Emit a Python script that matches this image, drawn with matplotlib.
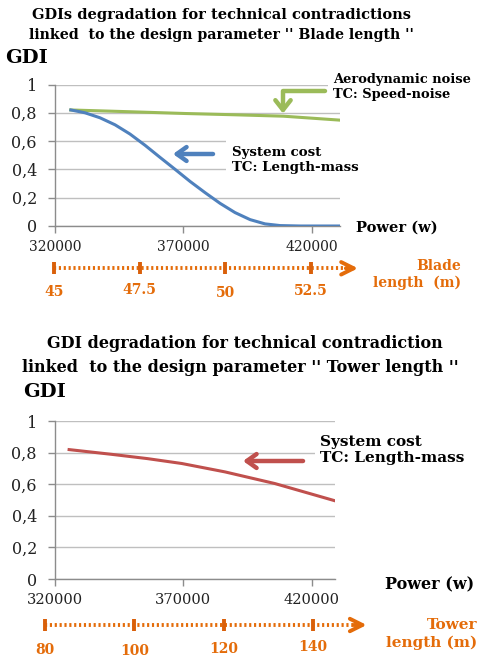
import matplotlib
matplotlib.use("Agg")
import matplotlib.pyplot as plt

# ---------------- data ----------------
blade_power = [326200, 331700, 337500, 343400, 349200, 355100, 360900, 366800, 372600,
               378500, 384300, 390100, 396000, 401800, 407700, 415500, 431100]
blade_cost_gdi = [0.82, 0.80, 0.765, 0.715, 0.65, 0.57, 0.485, 0.40, 0.315,
                  0.235, 0.16, 0.095, 0.045, 0.015, 0.003, 0.0, 0.0]
blade_noise_power = [326100, 350000, 370700, 390000, 409000, 431100]
blade_noise_gdi = [0.82, 0.807, 0.795, 0.786, 0.776, 0.748]

tower_power = [325500, 342100, 356000, 369400, 386200, 405700, 429100]
tower_cost_gdi = [0.819, 0.789, 0.762, 0.731, 0.678, 0.604, 0.495]

power_ticks = [320000, 370000, 420000]
gdi_ticks = [0, 0.2, 0.4, 0.6, 0.8, 1]
gdi_labels = ["0", "0,2", "0,4", "0,6", "0,8", "1"]

blade_lengths = [45, 47.5, 50, 52.5]
blade_labels = ["45", "47.5", "50", "52.5"]
tower_lengths = [80, 100, 120, 140]
tower_labels = ["80", "100", "120", "140"]

# ---------------- style ----------------
W, H = 479, 657
BLUE = "#4F81BD"
GREEN = "#9BBB59"
RED = "#C0504D"
ORANGE = "#E46C0A"
GRID = "#BFBFBF"
AXC = "#8C8C8C"
SERIF = ["DejaVu Serif"]

plt.rcParams["font.family"] = SERIF

fig = plt.figure(figsize=(W / 100, H / 100), dpi=100)
fig.patch.set_facecolor("white")


def fx(px):
    return px / W


def fy(py):
    return 1 - py / H


def make_axes(left, right, top, bottom, xmax, xsize):
    ax = fig.add_axes([fx(left), fy(bottom), fx(right - left), (bottom - top) / H])
    ax.set_xlim(320000, xmax)
    ax.set_ylim(0, 1)
    ax.set_xticks(power_ticks)
    ax.set_xticklabels([str(v) for v in power_ticks], fontsize=xsize)
    ax.set_yticks(gdi_ticks)
    ax.set_yticklabels(gdi_labels, fontsize=11.5)
    ax.yaxis.grid(True, color=GRID, lw=1)
    ax.set_axisbelow(True)
    for s in ["top", "right"]:
        ax.spines[s].set_visible(False)
    for s in ["left", "bottom"]:
        ax.spines[s].set_color(AXC)
        ax.spines[s].set_linewidth(1)
    ax.tick_params(axis="both", colors=AXC, length=5, width=1, labelcolor="#222222")
    ax.tick_params(axis="y", pad=8)
    ax.tick_params(axis="x", pad=5)
    ax.patch.set_alpha(0)
    return ax


def length_scale(left_px, right_px, y_px, vmin, vmax_scale, values, labels, offsets):
    h = 16
    ax = fig.add_axes([fx(left_px), fy(y_px + h / 2), fx(right_px - left_px), h / H])
    ax.set_xlim(vmin, vmax_scale)
    ax.set_ylim(-1, 1)
    ax.axis("off")
    span = vmax_scale - vmin
    ax.plot([vmin, vmax_scale - span * 0.035], [0, 0], color=ORANGE, lw=2.8,
            linestyle=(0, (0.55, 0.7)), solid_capstyle="butt", clip_on=False)
    ax.annotate("", xy=(vmax_scale, 0), xytext=(vmax_scale - span * 0.04, 0),
                arrowprops=dict(arrowstyle="->,head_length=0.9,head_width=0.45",
                                lw=2.8, color=ORANGE, shrinkA=0, shrinkB=0),
                annotation_clip=False)
    for v, lab, off in zip(values, labels, offsets):
        ax.plot([v, v], [-0.75, 0.75], color="#D9600A", lw=2.8, clip_on=False,
                solid_capstyle="butt")
        ax.annotate(lab, xy=(v, 0), xytext=(0, -off), textcoords="offset pixels",
                    ha="center", va="center", fontsize=10, fontweight="bold",
                    color=ORANGE, annotation_clip=False)
    return ax


# ================= top chart =================
ax1 = make_axes(55, 340, 84.5, 226, 431000, 10)
ax1.plot(blade_noise_power, blade_noise_gdi, color=GREEN, lw=2.2, zorder=3)
ax1.plot(blade_power, blade_cost_gdi, color=BLUE, lw=2.2, zorder=3)

fig.text(fx(222), fy(15), "GDIs degradation for technical contradictions",
         ha="center", va="center", fontsize=10.5, fontweight="bold")
fig.text(fx(221), fy(35), "linked  to the design parameter '' Blade length ''",
         ha="center", va="center", fontsize=10.2, fontweight="bold")
fig.text(fx(5), fy(58), "GDI", ha="left", va="center", fontsize=14, fontweight="bold")

# annotations
ax1.text(431000 - 111000 * (340 - 333) / 285, (226 - 87) / 141.5,
         "Aerodynamic noise\nTC: Speed-noise", ha="left", va="center",
         fontsize=9.4, fontweight="bold", linespacing=1.2, clip_on=False, zorder=4,
         bbox=dict(boxstyle="square,pad=0.35", fc="white", ec="none"))
ax1.annotate("", xy=(408800, 0.795), xytext=(425100, 0.955),
             arrowprops=dict(arrowstyle="->,head_length=0.7,head_width=0.55", lw=3.2,
                             color=GREEN, shrinkA=0, shrinkB=0,
                             connectionstyle="angle,angleA=180,angleB=90,rad=0"),
             annotation_clip=False, zorder=5)

ax1.text(320000 + (232 - 55) * 389.5, (226 - 160) / 141.5,
         "System cost\nTC: Length-mass", ha="left", va="center",
         fontsize=9.6, fontweight="bold", linespacing=1.25, zorder=4,
         bbox=dict(boxstyle="square,pad=0.45", fc="white", ec="none"))
ax1.annotate("", xy=(320000 + (173 - 55) * 389.5, (226 - 154) / 141.5),
             xytext=(320000 + (213 - 55) * 389.5, (226 - 154) / 141.5),
             arrowprops=dict(arrowstyle="->,head_length=0.7,head_width=0.5", lw=3.2,
                             color=BLUE, shrinkA=0, shrinkB=0), zorder=5)

fig.text(fx(356), fy(228), "Power (w)", ha="left", va="center", fontsize=10.5,
         fontweight="bold")

length_scale(54.3, 358, 268.3, 45, 45 + (358 - 54.3) / 34.2, blade_lengths,
             blade_labels, [24, 22, 25, 23])
fig.text(fx(461), fy(266), "Blade", ha="right", va="center", fontsize=10,
         fontweight="bold", color=ORANGE)
fig.text(fx(461), fy(283), "length  (m)", ha="right", va="center", fontsize=10,
         fontweight="bold", color=ORANGE)

# ================= bottom chart =================
ax2 = make_axes(55, 335, 421, 579, 429100, 10.5)
ax2.plot(tower_power, tower_cost_gdi, color=RED, lw=2.2, zorder=3)

fig.text(fx(245), fy(344), "GDI degradation for technical contradiction",
         ha="center", va="center", fontsize=11.5, fontweight="bold")
fig.text(fx(240), fy(367), "linked  to the design parameter '' Tower length ''",
         ha="center", va="center", fontsize=11.5, fontweight="bold")
fig.text(fx(23), fy(392), "GDI", ha="left", va="center", fontsize=14, fontweight="bold")

ax2.text(320000 + (320 - 55) * 389.7, (579 - 450) / 158,
         "System cost\nTC: Length-mass", ha="left", va="center",
         fontsize=11, fontweight="bold", linespacing=1.15, clip_on=False, zorder=4,
         bbox=dict(boxstyle="square,pad=0.35", fc="white", ec="none"))
ax2.annotate("", xy=(320000 + (243 - 55) * 389.7, (579 - 461) / 158),
             xytext=(320000 + (303 - 55) * 389.7, (579 - 461) / 158),
             arrowprops=dict(arrowstyle="->,head_length=0.7,head_width=0.5", lw=3.2,
                             color=RED, shrinkA=0, shrinkB=0), zorder=5)

fig.text(fx(385), fy(585), "Power (w)", ha="left", va="center", fontsize=11.5,
         fontweight="bold")

length_scale(45, 366.7, 625, 80, 80 + (366.7 - 45) / 4.47, tower_lengths,
             tower_labels, [25, 26, 24, 22])
fig.text(fx(477), fy(625), "Tower", ha="right", va="center", fontsize=11,
         fontweight="bold", color=ORANGE)
fig.text(fx(477), fy(643), "length (m)", ha="right", va="center", fontsize=11,
         fontweight="bold", color=ORANGE)

fig.savefig("out.png", dpi=100, facecolor="white")
